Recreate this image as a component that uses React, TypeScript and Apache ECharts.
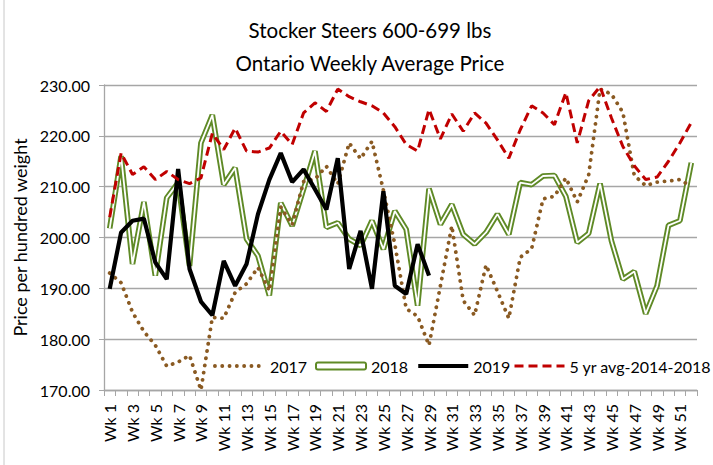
import React, { useEffect, useRef } from "react";
import * as echarts from "echarts";

const weeks = [
  "Wk 1", "Wk 2", "Wk 3", "Wk 4", "Wk 5", "Wk 6", "Wk 7", "Wk 8", "Wk 9", "Wk 10",
  "Wk 11", "Wk 12", "Wk 13", "Wk 14", "Wk 15", "Wk 16", "Wk 17", "Wk 18", "Wk 19", "Wk 20",
  "Wk 21", "Wk 22", "Wk 23", "Wk 24", "Wk 25", "Wk 26", "Wk 27", "Wk 28", "Wk 29", "Wk 30",
  "Wk 31", "Wk 32", "Wk 33", "Wk 34", "Wk 35", "Wk 36", "Wk 37", "Wk 38", "Wk 39", "Wk 40",
  "Wk 41", "Wk 42", "Wk 43", "Wk 44", "Wk 45", "Wk 46", "Wk 47", "Wk 48", "Wk 49", "Wk 50",
  "Wk 51", "Wk 52",
];

const y2017 = [
  193.0, 191.1, 185.3, 181.5, 178.8, 174.7, 175.5, 176.8, 170.0, 184.3,
  184.1, 189.2, 190.9, 194.1, 189.5, 206.0, 202.5, 211.0, 211.5, 214.0,
  210.5, 218.6, 215.5, 218.9, 209.3, 198.7, 186.0, 184.5, 178.8, 190.5,
  202.3, 187.6, 184.7, 194.6, 189.4, 184.1, 196.1, 197.8, 207.6, 208.1,
  211.7, 207.0, 212.3, 229.2, 228.2, 224.6, 212.2, 210.2, 210.9, 211.1,
  211.4, 210.0,
];

const y2018 = [
  201.8, 216.0, 194.8, 207.0, 192.5, 207.8, 210.8, 194.4, 218.6, 224.1,
  210.4, 213.7, 199.7, 196.4, 188.6, 206.8, 202.3, 209.5, 217.0, 202.0,
  202.9, 199.7, 198.4, 203.3, 197.7, 205.2, 201.6, 186.6, 209.6, 202.6,
  206.5, 200.6, 198.7, 201.0, 204.6, 200.6, 210.8, 210.4, 212.1, 212.2,
  208.1, 199.0, 200.8, 210.6, 199.3, 191.8, 193.3, 185.0, 190.5, 202.4,
  203.3, 214.7,
];

const y2019 = [
  189.9, 201.0, 203.3, 203.7, 195.1, 191.8, 213.5, 193.8, 187.4, 184.7,
  195.4, 190.5, 194.8, 204.6, 211.4, 216.6, 210.9, 213.4, 209.5, 205.5,
  215.6, 193.8, 201.3, 189.9, 209.1, 190.5, 188.9, 198.7, 192.5,
];

const avg5yr = [
  204.0, 216.6, 212.4, 213.9, 211.4, 213.0, 211.4, 210.6, 211.7, 220.5,
  217.3, 221.5, 217.0, 216.8, 217.6, 220.9, 218.3, 224.5, 226.5, 224.8,
  229.2, 227.7, 226.7, 225.9, 224.5, 221.8, 218.3, 217.0, 225.2, 219.4,
  224.3, 220.9, 224.5, 222.5, 219.2, 215.6, 221.2, 225.9, 224.5, 222.2,
  228.5, 218.6, 226.9, 229.7, 223.5, 217.9, 214.1, 211.4, 211.9, 215.0,
  218.6, 222.6,
];

const GREEN = "#5f8a26";
const BROWN = "#8a5a22";
const RED = "#c00000";
const GRID = "#a6a6a6";
const FONT = "Lato, 'Liberation Sans', sans-serif";

export default function App() {
  const ref = useRef<HTMLDivElement>(null);

  useEffect(() => {
    if (!ref.current) return;
    const chart = echarts.init(ref.current, undefined, { renderer: "svg" });
    const hideSymbol = { opacity: 0 };
    const dotStyle = { color: BROWN, width: 3.8, type: [0.1, 7.2], cap: "round" };
    const blackStyle = { color: "#000", width: 4.2 };
    const dashStyle = { color: RED, width: 3, type: [9, 5] };
    const legendBase = {
      top: 358,
      padding: 0,
      itemWidth: 50,
      itemHeight: 7,
      itemGap: 8,
      textStyle: { fontFamily: FONT, fontSize: 16, color: "#000" },
    };
    chart.setOption({
      animation: false,
      backgroundColor: "#ffffff",
      textStyle: { fontFamily: FONT },
      title: {
        text: "Stocker Steers 600-699 lbs\nOntario Weekly Average Price",
        left: 365,
        textAlign: "center",
        top: 8,
        textStyle: {
          fontFamily: FONT,
          fontSize: 20.5,
          fontWeight: "normal",
          color: "#000",
          lineHeight: 33,
        },
      },
      graphic: [
        {
          type: "line",
          shape: { x1: 4, y1: 0, x2: 4, y2: 465 },
          style: { stroke: "#c8c8c8", lineWidth: 1 },
        },
      ],
      legend: [
        {
          ...legendBase,
          left: 213,
          data: [
            { name: "2017", itemStyle: hideSymbol, lineStyle: dotStyle },
            {
              name: "2018",
              icon: "roundRect",
              itemStyle: { color: "#ffffff", borderColor: GREEN, borderWidth: 2 },
            },
            { name: "2019", itemStyle: hideSymbol, lineStyle: blackStyle },
          ],
        },
        {
          ...legendBase,
          left: 513,
          data: [{ name: "5 yr avg-2014-2018", itemStyle: hideSymbol, lineStyle: dashStyle }],
        },
      ],
      grid: { left: 104, right: 16, top: 85, bottom: 75 },
      xAxis: {
        type: "category",
        data: weeks,
        boundaryGap: true,
        axisLine: { lineStyle: { color: GRID, width: 1.3 } },
        axisTick: { show: true, interval: 0, length: 6, lineStyle: { color: GRID } },
        axisLabel: {
          interval: 1,
          rotate: 90,
          fontSize: 16,
          color: "#000",
          fontFamily: FONT,
          margin: 14,
        },
        splitLine: { show: false },
      },
      yAxis: {
        type: "value",
        min: 170,
        max: 230,
        interval: 10,
        name: "Price per hundred weight",
        nameLocation: "middle",
        nameGap: 68,
        nameTextStyle: { fontSize: 18, color: "#000", fontFamily: FONT },
        axisLine: { show: true, lineStyle: { color: GRID, width: 1.3 } },
        axisTick: { show: true, length: 5, lineStyle: { color: GRID } },
        axisLabel: {
          fontSize: 16,
          color: "#000",
          fontFamily: FONT,
          margin: 14,
          formatter: (v: number) => v.toFixed(2),
        },
        splitLine: { lineStyle: { color: GRID, width: 1.3 } },
      },
      series: [
        {
          name: "2018",
          type: "line",
          data: y2018,
          symbol: "none",
          z: 2,
          itemStyle: { color: GREEN },
          lineStyle: { color: GREEN, width: 5.6 },
        },
        {
          name: "2018",
          type: "line",
          data: y2018,
          symbol: "none",
          z: 3,
          itemStyle: { color: GREEN },
          lineStyle: { color: "#ffffff", width: 1.8 },
        },
        {
          name: "2017",
          type: "line",
          data: y2017,
          symbol: "none",
          z: 4,
          itemStyle: { color: BROWN },
          lineStyle: dotStyle,
        },
        {
          name: "2019",
          type: "line",
          data: y2019,
          symbol: "none",
          z: 5,
          itemStyle: { color: "#000" },
          lineStyle: blackStyle,
        },
        {
          name: "5 yr avg-2014-2018",
          type: "line",
          data: avg5yr,
          symbol: "none",
          z: 6,
          itemStyle: { color: RED },
          lineStyle: dashStyle,
        },
      ],
    });
    return () => chart.dispose();
  }, []);

  return (
    <div
      ref={ref}
      style={{ position: "absolute", left: 0, top: 0, width: 713, height: 465, background: "#fff" }}
    />
  );
}
